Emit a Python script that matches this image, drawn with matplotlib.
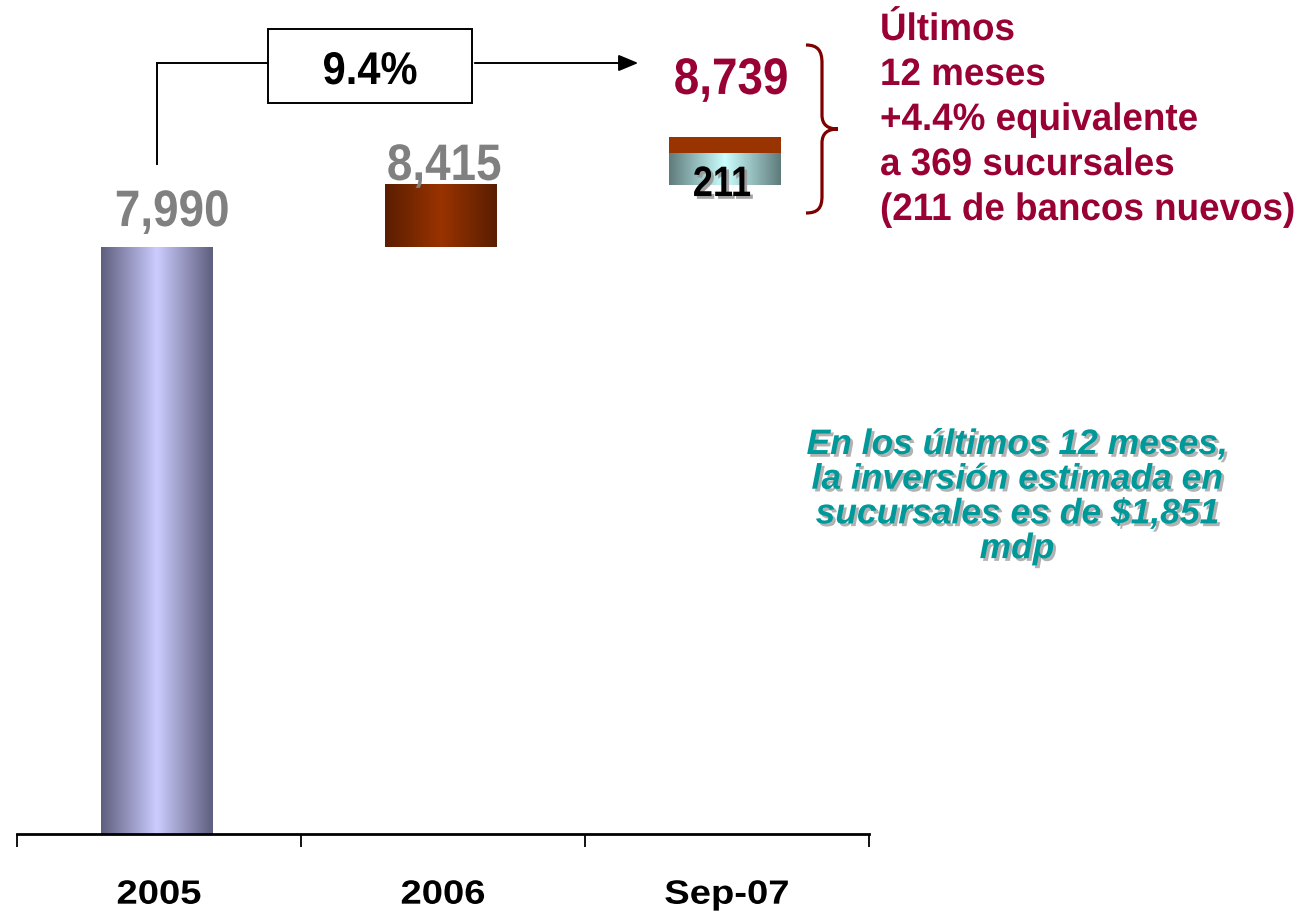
import matplotlib
matplotlib.use("Agg")
import matplotlib.pyplot as plt
import matplotlib.patheffects as pe
from matplotlib.colors import LinearSegmentedColormap
from matplotlib.path import Path
from matplotlib.patches import PathPatch, Rectangle, FancyArrowPatch
from matplotlib.transforms import Affine2D
import numpy as np

# data
categories = ["2005", "2006", "Sep-07"]
totals = [7990, 8415, 8739]
new_banks = 211
growth_label = "9.4%"
note_lines = ["Últimos", "12 meses", "+4.4% equivalente", "a 369 sucursales", "(211 de bancos nuevos)"]
invest_lines = ["En los últimos 12 meses,", "la inversión estimada en", "sucursales es de $1,851", "mdp"]

W, H = 1315, 912
plt.rcParams["font.family"] = ["Liberation Sans", "DejaVu Sans"]
fig = plt.figure(figsize=(W / 100, H / 100), dpi=100)
ax = fig.add_axes([17 / W, 77 / H, 852 / W, 835 / H])


def px(x, y):
    # pixel position (from top-left) to figure fraction
    return x / W, 1 - y / H


class Tall(pe.AbstractPathEffect):
    """stretch glyphs vertically about the baseline, optional drop shadow"""

    def __init__(self, sy, shadow=None):
        super().__init__()
        self.sy = sy
        self.shadow = shadow

    def draw_path(self, renderer, gc, tpath, affine, rgbFace=None):
        aff = Affine2D().scale(1, self.sy) + affine
        if self.shadow:
            pe.SimplePatchShadow(offset=(2, -2), shadow_rgbFace=self.shadow, alpha=0.9).draw_path(
                renderer, gc, tpath, aff, rgbFace)
        renderer.draw_path(gc, tpath, aff, rgbFace)


def gradient(ax, bar, edge, mid):
    cmap = LinearSegmentedColormap.from_list("g", [edge, mid, edge])
    x0, y0 = bar.get_x(), bar.get_y()
    grad = np.linspace(0, 1, 256).reshape(1, -1)
    ax.imshow(grad, cmap=cmap, aspect="auto", interpolation="bicubic",
              extent=(x0, x0 + bar.get_width(), y0, y0 + bar.get_height()), zorder=2)
    bar.set_visible(False)


x = np.arange(len(categories))
xb = x - 0.007
width = 0.393
base = 4000
rest = totals[2] - totals[1] - new_banks

b05 = ax.bar(xb[0], totals[0] - base, width, bottom=base)[0]
b06 = ax.bar(xb[1], totals[1] - totals[0], width, bottom=totals[0])[0]
b07a = ax.bar(xb[2], new_banks, width, bottom=totals[1])[0]
ax.bar(xb[2], rest, width, bottom=totals[1] + new_banks, color="#993300", zorder=2)

gradient(ax, b05, "#5e5e7e", "#ccccff")
gradient(ax, b06, "#5a1e00", "#993300")
gradient(ax, b07a, "#5f7b7b", "#ccffff")

ax.set_xlim(-0.5, 2.5)
ax.set_ylim(base, base + 835 / 0.1471)
for s in ["top", "right", "left"]:
    ax.spines[s].set_visible(False)
ax.spines["bottom"].set_linewidth(2)
ax.set_yticks([])
ax.set_xticks(x)
ax.set_xticklabels(categories, fontsize=27.5, fontweight="bold")
for t in ax.get_xticklabels():
    t.set_path_effects([Tall(0.88)])
ax.tick_params(axis="x", which="major", length=0, pad=30)
ax.set_xticks([-0.5, 0.5, 1.5, 2.5], minor=True)
ax.tick_params(axis="x", which="minor", length=9, width=1.3, direction="out")

# value labels
big = [Tall(1.12)]
ax.text(x[0] + 0.047, totals[0] + 143, f"{totals[0]:,}", ha="center", va="baseline",
        fontsize=33, fontweight="bold", color="#808080", path_effects=big)
ax.text(x[1] + 0.005, totals[1] + 31, f"{totals[1]:,}", ha="center", va="baseline",
        fontsize=33, fontweight="bold", color="#808080", path_effects=big)
ax.text(x[2] + 0.015, totals[2] + 292, f"{totals[2]:,}", ha="center", va="baseline",
        fontsize=33, fontweight="bold", color="#990033", path_effects=big)
ax.text(x[2] - 0.018, totals[1] - 78, str(new_banks), ha="center", va="baseline",
        fontsize=26, fontweight="bold", color="black", zorder=5,
        path_effects=[Tall(1.18, shadow="#999999")])

# growth connector with box
lw = 1.4
fig.add_artist(plt.Line2D(*zip(px(157, 165), px(157, 64)), color="black", lw=lw))
fig.add_artist(plt.Line2D(*zip(px(157, 64), px(268, 64)), color="black", lw=lw))
fig.add_artist(FancyArrowPatch(px(472, 64), px(641, 64), transform=fig.transFigure,
                               arrowstyle="-|>,head_length=12,head_width=5", color="black",
                               lw=lw, mutation_scale=1))
bx0, by0 = px(268, 104)
bx1, by1 = px(472, 30)
fig.add_artist(Rectangle((bx0, by0), bx1 - bx0, by1 - by0, transform=fig.transFigure,
                         facecolor="white", edgecolor="black", lw=lw))
fig.text(*px(370, 85), growth_label, ha="center", va="baseline", fontsize=30,
         fontweight="bold", path_effects=[Tall(1.1)])

# brace
pts = [(806, 46), (818, 46), (822, 52), (822, 64), (822, 116), (822, 126), (828, 130), (838, 130),
       (828, 130), (822, 134), (822, 144), (822, 197), (822, 209), (818, 214), (806, 214)]
codes = [Path.MOVETO, Path.CURVE4, Path.CURVE4, Path.CURVE4, Path.LINETO, Path.CURVE4, Path.CURVE4,
         Path.CURVE4, Path.CURVE4, Path.CURVE4, Path.CURVE4, Path.LINETO, Path.CURVE4, Path.CURVE4,
         Path.CURVE4]
brace = Path([px(a, b) for a, b in pts], codes)
fig.add_artist(PathPatch(brace, transform=fig.transFigure, facecolor="none",
                         edgecolor="#800000", lw=2.3))

# note text
for i, line in enumerate(note_lines):
    fig.text(*px(880, 41 + 45 * i), line, ha="left", va="baseline", fontsize=26.5,
             fontweight="bold", color="#990033", path_effects=[Tall(1.04)])

for i, line in enumerate(invest_lines):
    fig.text(*px(1017, 455 + 34.7 * i), line, ha="center", va="baseline", fontsize=25.5,
             fontweight="bold", style="italic", color="#009999",
             path_effects=[Tall(1.0, shadow="#aaaaaa")])

fig.savefig("out.png", dpi=100)
